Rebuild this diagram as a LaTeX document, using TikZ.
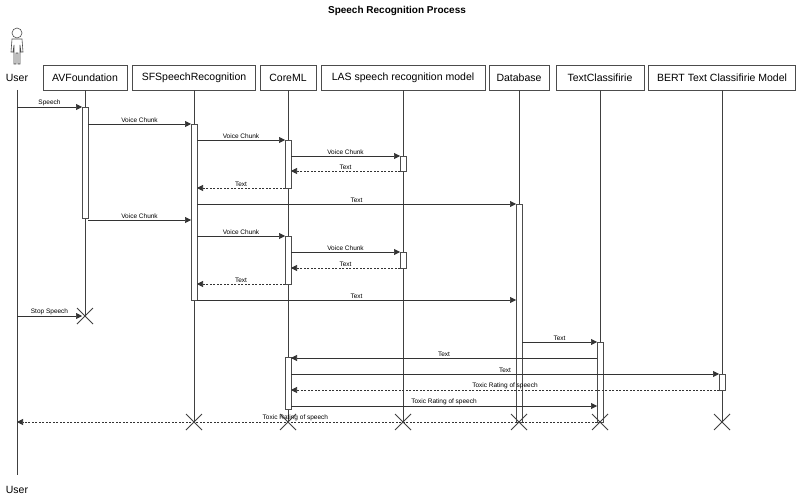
\documentclass[tikz,border=0pt]{standalone}
\usepackage{fontspec}
\setmainfont{Liberation Sans}
\usetikzlibrary{arrows.meta}
\begin{document}
\begin{tikzpicture}[x=1pt,y=-1pt,
  hdr/.style={draw=black!70,line width=0.6pt,minimum height=25pt,inner sep=0pt,font=\fontsize{10.5}{12}\selectfont},
  life/.style={draw=black!75,line width=0.6pt},
  bar/.style={draw=black!70,fill=white,line width=0.6pt},
  msg/.style={draw=black!80,line width=0.6pt,-{Triangle[length=6pt,width=6pt]}},
  ret/.style={msg,dashed,dash pattern=on 2pt off 1.5pt},
  lbl/.style={font=\fontsize{6.5}{7}\selectfont,above,inner sep=1.2pt},
  kill/.style={draw=black!75,line width=0.9pt}]
\useasboundingbox[fill=white] (0,0) rectangle (800,497);
\node[font=\bfseries\fontsize{10}{12}\selectfont] (title) at (397,11) {Speech Recognition Process};
% user figure
\draw[black!70,line width=0.6pt] (17,33) circle (5);
\draw[black!70,line width=0.6pt] (12,39) -- (22,39) -- (23,52) -- (21,52) -- (20,45) -- (20,64) -- (18,64) -- (18,53) -- (16,53) -- (16,64) -- (14,64) -- (14,45) -- (13,52) -- (11,52) -- cycle;
\node[font=\fontsize{10.5}{12}\selectfont] (user) at (17,78) {User};
\node[font=\fontsize{10.5}{12}\selectfont] (userb) at (17,490) {User};
\node[hdr,minimum width=84pt] (av) at (85,77.5) {AVFoundation};
\node[hdr,minimum width=123pt] (sf) at (194,77.5) {SFSpeechRecognition};
\node[hdr,minimum width=56pt] (cm) at (288,77.5) {CoreML};
\node[hdr,minimum width=164pt] (las) at (403,77.5) {LAS speech recognition model};
\node[hdr,minimum width=60pt] (db) at (519,77.5) {Database};
\node[hdr,minimum width=88pt] (tc) at (600,77.5) {TextClassifirie};
\node[hdr,minimum width=147pt] (bert) at (722,77.5) {BERT Text Classifirie Model};
% lifelines
\draw[life] (17,90) -- (17,475);
\draw[life] (av.south) -- (85,316);
\draw[life] (sf.south) -- (194,422);
\draw[life] (cm.south) -- (288,422);
\draw[life] (las.south) -- (403,422);
\draw[life] (db.south) -- (519,422);
\draw[life] (tc.south) -- (600,422);
\draw[life] (bert.south) -- (722,422);
% activation bars
\draw[bar] (82,107) rectangle (88,218);
\draw[bar] (191,124) rectangle (197,300);
\draw[bar] (285,140) rectangle (291,188);
\draw[bar] (285,236) rectangle (291,284);
\draw[bar] (285,357) rectangle (291,409);
\draw[bar] (400,156) rectangle (406,171);
\draw[bar] (400,252) rectangle (406,268);
\draw[bar] (516,204) rectangle (522,422);
\draw[bar] (597,342) rectangle (603,422);
\draw[bar] (719,374) rectangle (725,390);
% messages
\draw[msg] (17,107) -- node[lbl]{Speech} (82,107);
\draw[msg] (88,124) -- node[lbl]{Voice Chunk} (191,124);
\draw[msg] (197,140) -- node[lbl]{Voice Chunk} (285,140);
\draw[msg] (291,156) -- node[lbl]{Voice Chunk} (400,156);
\draw[ret] (400,171) -- node[lbl]{Text} (291,171);
\draw[ret] (285,188) -- node[lbl]{Text} (197,188);
\draw[msg] (197,204) -- node[lbl]{Text} (516,204);
\draw[msg] (88,220) -- node[lbl]{Voice Chunk} (191,220);
\draw[msg] (197,236) -- node[lbl]{Voice Chunk} (285,236);
\draw[msg] (291,252) -- node[lbl]{Voice Chunk} (400,252);
\draw[ret] (400,268) -- node[lbl]{Text} (291,268);
\draw[ret] (285,284) -- node[lbl]{Text} (197,284);
\draw[msg] (197,300) -- node[lbl]{Text} (516,300);
\draw[msg] (17,316) -- node[lbl]{Stop Speech} (82,316);
\draw[msg] (522,342) -- node[lbl]{Text} (597,342);
\draw[msg] (597,358) -- node[lbl]{Text} (291,358);
\draw[msg] (291,374) -- node[lbl]{Text} (719,374);
\draw[ret] (719,390) -- node[lbl]{Toxic Rating of speech} (291,390);
\draw[msg] (291,406) -- node[lbl]{Toxic Rating of speech} (597,406);
\draw[ret] (597,422) -- node[lbl,pos=0.52]{Toxic Rating of speech} (17,422);
% destroy marks
\foreach \x/\y in {85/316,194/422,288/422,403/422,519/422,600/422,722/422}
  \draw[kill] (\x-8,\y-8) -- (\x+8,\y+8) (\x-8,\y+8) -- (\x+8,\y-8);
\end{tikzpicture}
\end{document}
